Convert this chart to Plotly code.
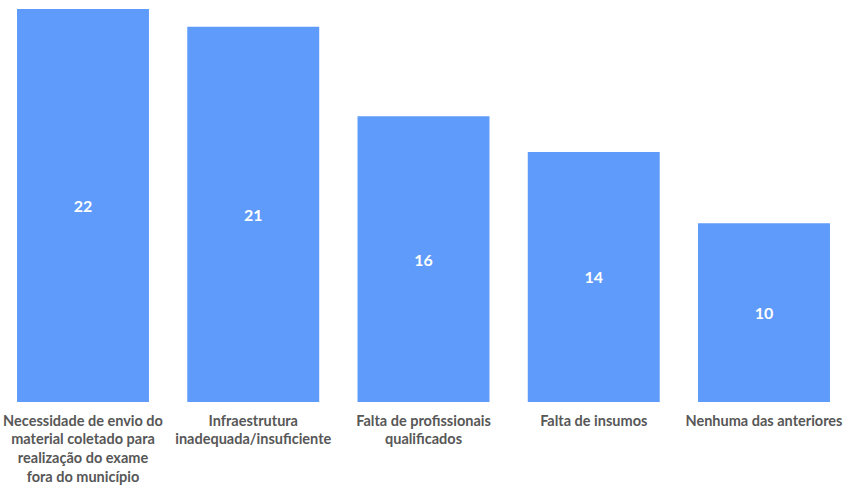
import plotly.graph_objects as go

categories = [
    "Necessidade de envio do<br>material coletado para<br>realização do exame<br>fora do município",
    "Infraestrutura<br>inadequada/insuficiente",
    "Falta de profissionais<br>qualificados",
    "Falta de insumos",
    "Nenhuma das anteriores",
]
values = [22, 21, 16, 14, 10]

bar_color = "#5F9BFB"
label_color = "#575757"

fig = go.Figure(
    go.Bar(
        x=list(range(len(categories))),
        y=values,
        text=[str(v) for v in values],
        textposition="inside",
        insidetextanchor="middle",
        textfont=dict(family="Lato", size=16, color="white", weight="bold"),
        marker=dict(color=bar_color, line=dict(width=0)),
        width=0.775,
        hoverinfo="skip",
    )
)

fig.update_layout(
    width=845,
    height=488,
    margin=dict(l=0, r=0, t=0, b=86),
    paper_bgcolor="white",
    plot_bgcolor="white",
    showlegend=False,
    xaxis=dict(
        range=[-0.4875, 4.4758],
        tickmode="array",
        tickvals=list(range(len(categories))),
        ticktext=categories,
        tickfont=dict(family="Lato", size=14.5, color=label_color, weight="bold"),
        ticklabelstandoff=8,
        showgrid=False,
        zeroline=False,
        showline=False,
        ticks="",
        tickangle=0,
    ),
    yaxis=dict(
        range=[0, 22 * 402 / 393],
        visible=False,
        showgrid=False,
        zeroline=False,
    ),
)

fig.write_html("out.html")
